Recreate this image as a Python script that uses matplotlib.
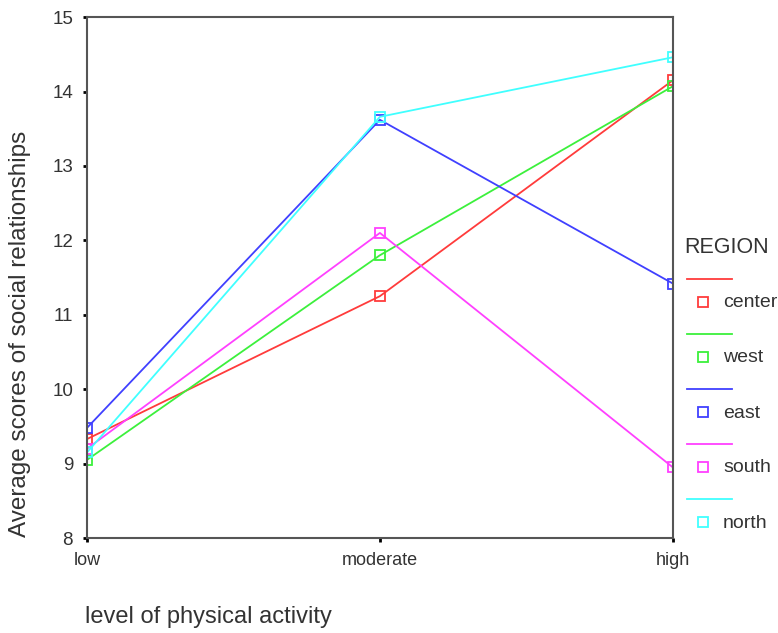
import matplotlib.pyplot as plt
from matplotlib.lines import Line2D

plt.rcParams['font.family'] = ['Liberation Sans', 'DejaVu Sans']

# data
levels = ['low', 'moderate', 'high']
regions = ['center', 'west', 'east', 'south', 'north']
center = [9.33, 11.25, 14.15]
west = [9.05, 11.80, 14.07]
east = [9.48, 13.62, 11.42]
south = [9.20, 12.10, 8.95]
north = [9.15, 13.66, 14.46]
series = [center, west, east, south, north]
colors = ['#ff3b3b', '#3cf03c', '#4040ff', '#ff40ff', '#40ffff']

txt = '#333333'
W, H = 778, 633

fig = plt.figure(figsize=(7.78, 6.33), dpi=100)
ax = fig.add_axes([0.1118, 0.150, 0.753, 0.823])

x = range(len(levels))
for vals, c in zip(series, colors):
    ax.plot(x, vals, color=c, lw=1.3, marker='s', ms=7.5, mfc='none', mec=c, mew=1.3)

ax.set_xlim(0, 2)
ax.set_ylim(8, 15)
ax.set_xticks(list(x))
ax.set_xticklabels(levels)
ax.set_yticks(range(8, 16))
ax.tick_params(axis='both', direction='out', length=3, width=2, color='black',
               labelcolor=txt, labelsize=13.5)
ax.tick_params(axis='x', pad=7, labelsize=13)
ax.tick_params(axis='y', pad=7)
for s in ax.spines.values():
    s.set_color('#555555')
    s.set_linewidth(1.5)

fig.text(20 / W, 1 - 334 / H, 'Average scores of social relationships', fontsize=17.5,
         color=txt, rotation=90, ha='center', va='center')
fig.text(85 / W, 1 - 617 / H, 'level of physical activity', fontsize=17,
         color=txt, ha='left', va='center')

# legend in SPSS style: line above, marker + label below
fig.text(684 / W, 1 - 247 / H, 'REGION', fontsize=15.5, color=txt, ha='left', va='center')
for i, (name, c) in enumerate(zip(regions, colors)):
    ly = 279 + i * 55
    my = ly + 23
    fig.add_artist(Line2D([687 / W, 732 / W], [1 - ly / H, 1 - ly / H],
                          transform=fig.transFigure, color=c, lw=1.3))
    fig.add_artist(Line2D([703 / W], [1 - my / H], transform=fig.transFigure,
                          marker='s', ms=7.5, mfc='none', mec=c, mew=1.3, ls='none'))
    fig.text(723 / W, 1 - (my + 1) / H, name, fontsize=14, color=txt,
             ha='left', va='center')

fig.savefig('out.png', dpi=100)
